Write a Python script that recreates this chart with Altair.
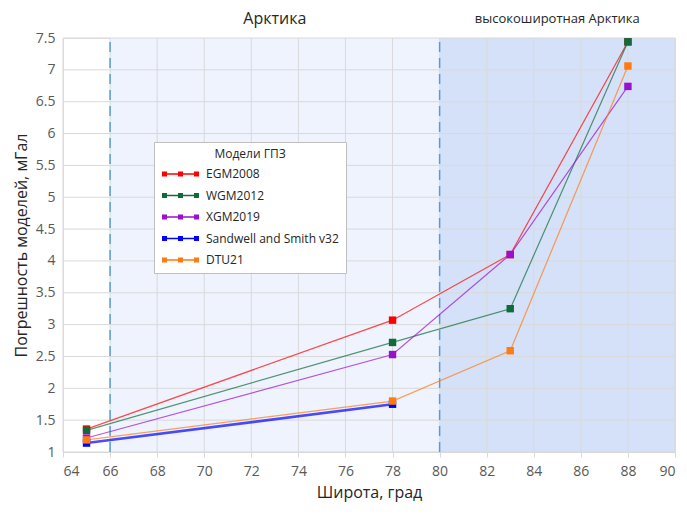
import altair as alt
import pandas as pd

# ---- data ----
latitudes = [65, 78, 83, 88]
egm2008 = [1.36, 3.07, 4.10, 7.44]
wgm2012 = [1.34, 2.72, 3.25, 7.44]
xgm2019 = [1.22, 2.53, 4.10, 6.74]
ss_lat = [65, 78]
sandwell = [1.14, 1.75]
dtu21 = [1.19, 1.80, 2.59, 7.06]

models = ["EGM2008", "WGM2012", "XGM2019", "Sandwell and Smith v32", "DTU21"]
marker_colors = ["#ff0000", "#0e6b3b", "#9b10d0", "#0000ff", "#ff7a10"]
line_widths = [1.2, 1.2, 1.2, 2.6, 1.2]

region_start = [66, 80]
region_end = [80, 90]
region_fill = ["#eef3fd", "#d5e1f8"]
region_names = ["Арктика", "высокоширотная Арктика"]
region_font = [16, 13]

x_ticks = list(range(64, 91, 2))
y_ticks = [1 + 0.5 * i for i in range(14)]

# ---- tables ----
rows = []
for name, xs, ys in [("EGM2008", latitudes, egm2008), ("WGM2012", latitudes, wgm2012),
                     ("XGM2019", latitudes, xgm2019), ("Sandwell and Smith v32", ss_lat, sandwell),
                     ("DTU21", latitudes, dtu21)]:
    for x, y in zip(xs, ys):
        rows.append({"model": name, "lat": x, "err": y, "lw": line_widths[models.index(name)]})
df = pd.DataFrame(rows)

regions = pd.DataFrame({"x": region_start, "x2": region_end, "fill": region_fill,
                        "y": [1, 1], "y2": [7.5, 7.5],
                        "name": region_names, "mid": [(a + b) / 2 for a, b in zip(region_start, region_end)],
                        "fs": region_font})
dashes = pd.DataFrame({"x": region_start, "y": [1, 1], "y2": [7.5, 7.5]})
xgrid = pd.DataFrame({"x": x_ticks, "y": 1, "y2": 7.5})
ygrid = pd.DataFrame({"y": y_ticks, "x": 64, "x2": 90})

W, H = 612, 414
FONT = "Open Sans"

xscale = alt.Scale(domain=[64, 90], nice=False, zero=False)
yscale = alt.Scale(domain=[1, 7.5], nice=False, zero=False)
cscale = alt.Scale(domain=models, range=marker_colors)

xaxis = alt.Axis(values=x_ticks, format="d", title="Широта, град", grid=False,
                 domainColor="#d9d9d9", tickColor="#d9d9d9", tickSize=5, labelPadding=7,
                 labelFontSize=14, labelColor="#595959", labelFont=FONT,
                 titleFontSize=16, titleFont=FONT, titleFontWeight="normal", titleColor="#262626",
                 titlePadding=6)
yaxis = alt.Axis(values=y_ticks, format=".1~f", title="Погрешность моделей, мГал", grid=False,
                 domain=False, ticks=False, labelPadding=8, labelOverlap=False,
                 labelFontSize=14, labelColor="#595959", labelFont=FONT,
                 titleFontSize=16, titleFont=FONT, titleFontWeight="normal", titleColor="#262626",
                 titlePadding=6)

X = lambda f: alt.X(f, scale=xscale, axis=xaxis)
Y = lambda f: alt.Y(f, scale=yscale, axis=yaxis)

bg = alt.Chart(regions).mark_rect().encode(
    x=X("x:Q"), x2="x2:Q", y=Y("y:Q"), y2="y2:Q",
    fill=alt.Fill("fill:N", scale=None),
)

gx = alt.Chart(xgrid).mark_rule(color="#d9d9d9", strokeWidth=1).encode(
    x=X("x:Q"), y=Y("y:Q"), y2="y2:Q")
gy = alt.Chart(ygrid).mark_rule(color="#d9d9d9", strokeWidth=1).encode(
    y=Y("y:Q"), x=X("x:Q"), x2="x2:Q")

labels = alt.Chart(regions).mark_text(font=FONT, color="#262626", baseline="middle").encode(
    x=X("mid:Q"),
    y=alt.value(-19),
    text="name:N",
    size=alt.Size("fs:Q", scale=None),
)

dash = alt.Chart(dashes).mark_rule(color="#5b9bd5", strokeWidth=1.5, strokeDash=[10, 6]).encode(
    x=X("x:Q"), y=Y("y:Q"), y2="y2:Q",
)

sym = "M-1,-0.15H6.4V0.15H-1Z M-1,-0.5H0V0.5H-1Z M2.2,-0.5H3.2V0.5H2.2Z M5.4,-0.5H6.4V0.5H5.4Z"
legend = alt.Legend(
    title="Модели ГПЗ", orient="none", legendX=91, legendY=104,
    symbolType=sym, symbolSize=100, symbolStrokeWidth=0, symbolOpacity=1,
    labelOffset=33, labelFontSize=12, labelFont=FONT, labelColor="#262626",
    titleFontSize=12, titleFont=FONT, titleFontWeight="normal", titleColor="#262626",
    titleAnchor="middle", titlePadding=7, rowPadding=9.5,
    padding=7, fillColor="white", strokeColor="#bfbfbf")

lines = alt.Chart(df).mark_line(opacity=0.7).encode(
    x=X("lat:Q"), y=Y("err:Q"),
    color=alt.Color("model:N", scale=cscale, legend=legend, sort=models),
    strokeWidth=alt.StrokeWidth("lw:Q", scale=None),
    detail="model:N",
)

points = alt.Chart(df).mark_point(shape="square", filled=True, size=55, opacity=1).encode(
    x=X("lat:Q"), y=Y("err:Q"),
    color=alt.Color("model:N", scale=cscale, legend=legend, sort=models),
)

chart = alt.layer(bg, gx, gy, dash, lines, points, labels).properties(
    width=W, height=H, padding={"left": 5, "top": 3, "right": 2, "bottom": 4}
).configure_view(stroke=None).configure(font=FONT)

chart.save("out.html", embed_options={"renderer": "svg", "actions": False})
